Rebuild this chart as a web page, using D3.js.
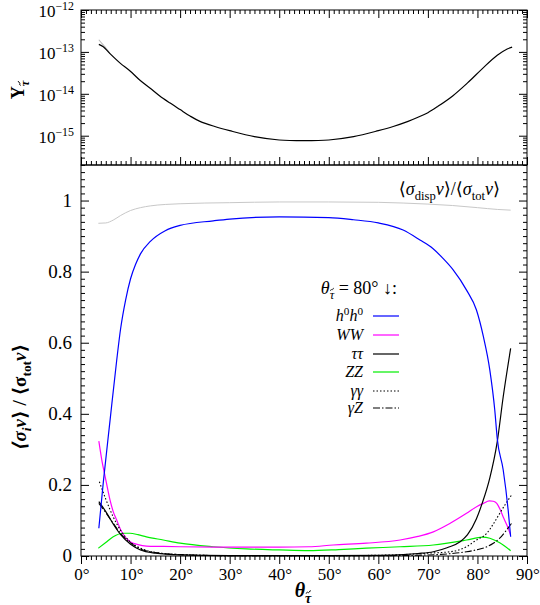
<!DOCTYPE html>
<html><head><meta charset="utf-8">
<script src="https://cdn.jsdelivr.net/npm/d3@7"></script>
<style>body{margin:0;background:#fff}svg{display:block}svg text{font-family:'Liberation Serif','DejaVu Serif','Noto Serif','FreeSerif','Nimbus Roman','Times New Roman',Times,serif}</style>
</head><body><svg id="c" width="540" height="605"></svg>
<script>
// ---------- DATA ----------
const yTauTheta = [3.6,4.5,5.85,7.9,9.9,11.9,13.9,15.9,18,20,22,24,27,30,35,40,45,50,55,60,63,66,68,70,72,75,78,81,84,86,87];
const yTauVals  = [1.51e-13,1.32e-13,9.1e-14,5.4e-14,3.5e-14,2.1e-14,1.38e-14,8.9e-15,6.0e-15,4.2e-15,2.95e-15,2.2e-15,1.66e-15,1.32e-15,9.5e-16,7.9e-16,7.6e-16,7.9e-16,9.5e-16,1.32e-15,1.66e-15,2.2e-15,2.75e-15,3.55e-15,5.0e-15,8.9e-15,1.82e-14,4.0e-14,8.3e-14,1.17e-13,1.3e-13];
const yTauGreyTheta = [3.6,4.2,4.8,5.85];
const yTauGreyVals  = [1.95e-13,1.6e-13,1.33e-13,9.1e-14];

const ratioTheta = [3.5,5,6.5,8,10,12,14,17,20,25,30,40,50,60,65,70,75,80,84,86.7];
const ratioVals  = [0.936,0.937,0.945,0.958,0.972,0.98,0.985,0.989,0.991,0.993,0.994,0.996,0.996,0.995,0.993,0.99,0.986,0.98,0.975,0.973];

const hhTheta = [3.6,4.5,5.85,7.2,8,9,10,11,12,14,17,20,26.7,30,40,50,55,60,65,68.4,71,73,75.1,77.8,79.8,81.2,82.5,83.5,84,85.2,86.2,86.7];
const hhVals  = [0.078,0.207,0.38,0.55,0.64,0.72,0.78,0.82,0.85,0.885,0.915,0.93,0.943,0.948,0.954,0.952,0.946,0.937,0.917,0.889,0.865,0.838,0.805,0.748,0.692,0.617,0.523,0.41,0.33,0.242,0.129,0.054];

const wwTheta = [3.6,4.2,4.85,5.85,6.5,7.2,8.2,9.9,11.5,13.2,16,20,30,40,46,50.9,57.6,64.4,68,71.1,74.5,77.8,80,81.2,82.4,83.2,83.9,84.6,85.2,86,86.7];
const wwVals  = [0.323,0.27,0.225,0.158,0.125,0.101,0.068,0.04,0.032,0.028,0.027,0.026,0.025,0.025,0.026,0.031,0.036,0.045,0.055,0.068,0.092,0.12,0.14,0.148,0.155,0.154,0.148,0.13,0.11,0.085,0.059];

const ttTheta = [3.6,5,6.5,8,10,12,15,20,30,40,50,60,65,68,71.1,74,76.5,78,79.8,81,82.5,84,85.2,86.7];
const ttVals  = [0.153,0.125,0.09,0.06,0.033,0.017,0.008,0.003,0.001,0.001,0.001,0.002,0.004,0.007,0.012,0.024,0.04,0.06,0.105,0.15,0.22,0.322,0.448,0.584];

const zzTheta = [3.5,5,6.5,8.5,9.9,11.5,13.2,16.6,20,26.7,33.4,40,46,52,57.6,64.4,71.1,77.8,81,82.5,84.5,86.7];
const zzVals  = [0.022,0.038,0.054,0.064,0.064,0.06,0.054,0.045,0.036,0.026,0.02,0.017,0.015,0.018,0.022,0.026,0.031,0.045,0.053,0.05,0.037,0.015];

const ggTheta = [3.7,5,6.5,8,9.9,12,15,20,30,40,50,60,65,70,74.5,77.8,79.8,81.9,83.2,84.5,85.7,86.9];
const ggVals  = [0.209,0.16,0.11,0.072,0.04,0.022,0.01,0.004,0.001,0.001,0.001,0.002,0.004,0.008,0.012,0.026,0.045,0.064,0.09,0.12,0.147,0.172];

const gzTheta = [3.6,5,6.5,8,10,12,15,20,30,40,50,60,70,74,77.8,80,81.9,83.2,84.5,85.7,86.9];
const gzVals  = [0.148,0.122,0.092,0.063,0.037,0.02,0.01,0.004,0.001,0.001,0.001,0.001,0.003,0.006,0.012,0.018,0.026,0.036,0.05,0.07,0.092];

const xTickLabels = ["0°","10°","20°","30°","40°","50°","60°","70°","80°","90°"];
const yBotTickLabels = ["0","0.2","0.4","0.6","0.8","1"];
const yTopExponents = ["−12","−13","−14","−15"];

// ---------- SETUP ----------
const svg = d3.select("#c");
const L=81,R=527,T1=10,B1=165,B2=556;
const x = d3.scaleLinear([0,90],[L,R]);
const yTop = d3.scaleLog([2e-16,1e-12],[B1,T1]);
const yBot = d3.scaleLinear([0,1.1],[B2,B1]);

// parts: [text, flags]; flags: "it" italic, "sub", "sup", "tt" (tilde-tau subscript)
function rich(g,x0,y0,parts,opt={}){
  const fs=opt.size||17;
  const grp=g.append("g");
  if(opt.rotate) grp.attr("transform",`rotate(-90,${x0},${y0})`);
  const t=grp.append("text").attr("x",x0).attr("y",y0).attr("font-size",fs)
    .attr("fill","#000").attr("text-anchor",opt.anchor||"start");
  if(opt.bold) t.attr("font-weight","bold");
  let shift=0, idx=0; const tildes=[];
  parts.forEach(p=>{
    let s=p[0]; const fl=p[1]||"";
    let target=0;
    if(fl==="tt"){ s="τ"; tildes.push(idx); }
    if(fl.includes("sub")||fl==="tt") target=fs*0.28;
    if(fl.includes("sup")) target=-fs*0.4;
    const ts=t.append("tspan").text(s).attr("dy",target-shift);
    shift=target;
    if(fl.includes("it")||fl==="tt") ts.attr("font-style","italic");
    if(fl.includes("sub")||fl.includes("sup")||fl==="tt") ts.attr("font-size",fs*0.7);
    idx+=[...s].length;
  });
  tildes.forEach(i=>{
    const e=t.node().getExtentOfChar(i);
    const cx=e.x+e.width*0.55, w=e.width*0.75, cy=e.y+e.height*0.12, a=fs*0.06;
    grp.append("path")
      .attr("d",`M${cx-w/2},${cy+a} C${cx-w/4},${cy-2*a} ${cx},${cy+2*a} ${cx+w/4},${cy-a} L${cx+w/2},${cy-a*1.4}`)
      .attr("fill","none").attr("stroke","#000").attr("stroke-width",opt.bold?1:0.8);
  });
  return t;
}
function plainText(g,x0,y0,s,size,anchor){
  return g.append("text").attr("x",x0).attr("y",y0).attr("fill","#000")
    .attr("font-size",size).attr("text-anchor",anchor).text(s);
}

// ---------- TOP PANEL ----------
const gt = svg.append("g");
const lineTop = d3.line().x(d=>x(d[0])).y(d=>yTop(d[1])).curve(d3.curveCatmullRom.alpha(0.5));
gt.append("path").datum(d3.zip(yTauGreyTheta,yTauGreyVals)).attr("d",lineTop)
  .attr("fill","none").attr("stroke","#bbb").attr("stroke-width",1.1);
gt.append("path").datum(d3.zip(yTauTheta,yTauVals)).attr("d",lineTop)
  .attr("fill","none").attr("stroke","#000").attr("stroke-width",1.2);

const xMajor = d3.range(0,91,10), xMinor = d3.range(0,91,1).filter(v=>v%10);
function xTicks(g,yPos,dir){
  g.append("g").attr("transform",`translate(0,${yPos})`)
   .call(d3.axisBottom(x).tickValues(xMinor).tickSizeInner(-dir*4).tickSizeOuter(0).tickFormat(""))
   .call(a=>a.select(".domain").remove());
  g.append("g").attr("transform",`translate(0,${yPos})`)
   .call(d3.axisBottom(x).tickValues(xMajor).tickSizeInner(-dir*8).tickSizeOuter(0).tickFormat(""))
   .call(a=>a.select(".domain").remove());
}
xTicks(gt,T1,-1); xTicks(gt,B1,1);

const decades=[1e-12,1e-13,1e-14,1e-15];
const logMinor=[];
[1e-16,1e-15,1e-14,1e-13].forEach(d=>{for(let k=2;k<=9;k++){const v=k*d; if(v>=2e-16&&v<1e-12) logMinor.push(v);}});
[[L,d3.axisLeft],[R,d3.axisRight]].forEach(([px,ax])=>{
  gt.append("g").attr("transform",`translate(${px},0)`)
    .call(ax(yTop).tickValues(logMinor).tickSizeInner(-4).tickSizeOuter(0).tickFormat(""))
    .call(a=>a.select(".domain").remove());
  gt.append("g").attr("transform",`translate(${px},0)`)
    .call(ax(yTop).tickValues(decades).tickSizeInner(-8).tickSizeOuter(0).tickFormat(""))
    .call(a=>a.select(".domain").remove());
});
decades.forEach((d,i)=>{
  rich(gt,74,yTop(d)+7,[["10"],[yTopExponents[i],"sup"]],{anchor:"end",size:17});
});
gt.append("rect").attr("x",L).attr("y",T1).attr("width",R-L).attr("height",B1-T1)
  .attr("fill","none").attr("stroke","#000").attr("stroke-width",1);
rich(gt,24,90,[["Y"],["","tt"]],{bold:true,rotate:true,anchor:"middle",size:18});

// ---------- BOTTOM PANEL ----------
const gb = svg.append("g");
const lineBot = d3.line().x(d=>x(d[0])).y(d=>yBot(d[1])).curve(d3.curveMonotoneX);
function series(th,vals,color,dash,w){
  const p=gb.append("path").datum(d3.zip(th,vals)).attr("d",lineBot).attr("fill","none")
    .attr("stroke",color).attr("stroke-width",w||1.2);
  if(dash) p.attr("stroke-dasharray",dash);
}
series(ratioTheta,ratioVals,"#c8c8c8",null,1);
series(zzTheta,zzVals,"#00ee00");
series(wwTheta,wwVals,"#ff00ff");
series(ggTheta,ggVals,"#000","1.5,2",1.1);
series(gzTheta,gzVals,"#000","7,2,1.5,2",1.1);
series(ttTheta,ttVals,"#000");
series(hhTheta,hhVals,"#0000ff");

xTicks(gb,B2,-1);
const yMajor=[0,0.2,0.4,0.6,0.8,1.0];
const yMinor=d3.range(0,1.1,0.02).filter(v=>Math.abs(v/0.2-Math.round(v/0.2))>1e-6);
[[L,d3.axisLeft],[R,d3.axisRight]].forEach(([px,ax])=>{
  gb.append("g").attr("transform",`translate(${px},0)`)
    .call(ax(yBot).tickValues(yMinor).tickSizeInner(-4).tickSizeOuter(0).tickFormat(""))
    .call(a=>a.select(".domain").remove());
  gb.append("g").attr("transform",`translate(${px},0)`)
    .call(ax(yBot).tickValues(yMajor).tickSizeInner(-8).tickSizeOuter(0).tickFormat(""))
    .call(a=>a.select(".domain").remove());
});
yMajor.forEach((v,i)=>plainText(gb,72,yBot(v)+6,yBotTickLabels[i],19,"end"));
xMajor.forEach((v,i)=>plainText(gb,x(v)+1,580,xTickLabels[i],17,"middle"));
gb.append("rect").attr("x",L).attr("y",B1).attr("width",R-L).attr("height",B2-B1)
  .attr("fill","none").attr("stroke","#000").attr("stroke-width",1);

// axis titles
rich(gb,303,597,[["θ","it"],["","tt"]],{bold:true,anchor:"middle",size:20});
rich(gb,26,397,[["⟨σ","it"],["i","sub it"],["v","it"],["⟩ / ⟨σ"],["tot","sub"],["v","it"],["⟩"]],{bold:true,rotate:true,anchor:"middle",size:19});

// ratio label
rich(gb,500,195,[["⟨"],["σ","it"],["disp","sub"],["v","it"],["⟩/⟨"],["σ","it"],["tot","sub"],["v","it"],["⟩"]],{anchor:"end",size:18});

// legend
rich(gb,397,294,[["θ","it"],["","tt"],[" = 80° ↓:"]],{anchor:"end",size:18});
const legend=[
  {lab:[["h","it"],["0","sup"],["h","it"],["0","sup"]],c:"#0000ff",d:null},
  {lab:[["WW","it"]],c:"#ff00ff",d:null},
  {lab:[["ττ","it"]],c:"#000",d:null},
  {lab:[["ZZ","it"]],c:"#00ee00",d:null},
  {lab:[["γγ","it"]],c:"#000",d:"1.5,2"},
  {lab:[["γZ","it"]],c:"#000",d:"7,2,1.5,2"}
];
const legY=[316,335,354,372,391,408];
legend.forEach((e,i)=>{
  rich(gb,363,legY[i]+5,e.lab,{anchor:"end",size:16});
  const ln=gb.append("line").attr("x1",373).attr("x2",399).attr("y1",legY[i]).attr("y2",legY[i])
    .attr("stroke",e.c).attr("stroke-width",1.2);
  if(e.d) ln.attr("stroke-dasharray",e.d);
});
</script></body></html>
